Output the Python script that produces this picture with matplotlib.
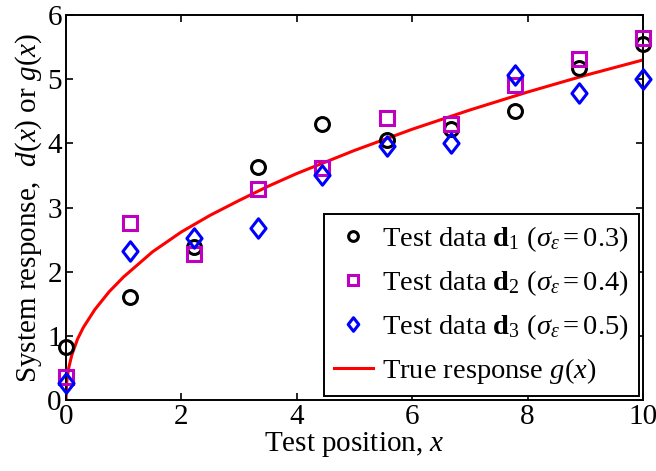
import matplotlib
matplotlib.use("Agg")
import matplotlib.pyplot as plt
from matplotlib.path import Path

plt.rcParams['font.family'] = ['Liberation Serif', 'DejaVu Serif']
plt.rcParams['mathtext.fontset'] = 'custom'
plt.rcParams['mathtext.rm'] = 'Liberation Serif'
plt.rcParams['mathtext.it'] = 'Liberation Serif:italic'
plt.rcParams['mathtext.bf'] = 'Liberation Serif:bold'

# Test positions
x_pos = [0, 1.11, 2.22, 3.33, 4.44, 5.56, 6.67, 7.78, 8.89, 10]
d1 = [0.82, 1.61, 2.39, 3.63, 4.30, 4.05, 4.22, 4.50, 5.17, 5.55]
d2 = [0.36, 2.76, 2.28, 3.29, 3.61, 4.39, 4.30, 4.91, 5.32, 5.65]
d3 = [0.26, 2.33, 2.53, 2.68, 3.50, 3.96, 4.01, 5.06, 4.79, 5.00]

# True response
g_x = [0, 0.01, 0.02, 0.05, 0.1, 0.2, 0.3, 0.5, 0.75, 1, 1.5, 2, 2.5, 3, 3.5,
       4, 5, 6, 7, 8, 9, 10]
g_y = [0, 0.25, 0.34, 0.51, 0.70, 0.95, 1.13, 1.41, 1.69, 1.92, 2.31, 2.62,
       2.88, 3.11, 3.33, 3.53, 3.89, 4.22, 4.52, 4.80, 5.06, 5.30]

labels = [r'Test data $\mathbf{d}_1$ $(\sigma_{\varepsilon} = 0.3)$',
          r'Test data $\mathbf{d}_2$ $(\sigma_{\varepsilon} = 0.4)$',
          r'Test data $\mathbf{d}_3$ $(\sigma_{\varepsilon} = 0.5)$',
          r'True response $g(x)$']

diamond = Path([(0, 1), (0.78, 0), (0, -1), (-0.78, 0), (0, 1)],
               [Path.MOVETO, Path.LINETO, Path.LINETO, Path.LINETO, Path.CLOSEPOLY])

fig = plt.figure(figsize=(6.56, 4.71), dpi=100)
ax = fig.add_axes([0.1006, 0.1507, 0.8794, 0.8173])

ax.plot(x_pos, d1, linestyle='none', marker='o', ms=10, mfc='none', mec='black',
        mew=2.2, clip_on=False, label=labels[0], zorder=3)
ax.plot(x_pos, d2, linestyle='none', marker='s', ms=9.5, mfc='none', mec='#c000c0',
        mew=2.2, clip_on=False, label=labels[1], zorder=3)
ax.plot(x_pos, d3, linestyle='none', marker=diamond, ms=14, mfc='none', mec='#0000ff',
        mew=2.2, clip_on=False, label=labels[2], zorder=3)
ax.plot(g_x, g_y, color='red', lw=2.2, label=labels[3], zorder=2)

ax.set_xlim(0, 10)
ax.set_ylim(0, 6)
ax.set_xticks([0, 2, 4, 6, 8, 10])
ax.set_yticks([0, 1, 2, 3, 4, 5, 6])
ax.tick_params(direction='in', top=True, right=True, labelsize=21, length=5,
               width=1.2, pad=3)
for s in ax.spines.values():
    s.set_linewidth(1.4)

ax.set_xlabel(r'Test position, $x$', fontsize=21, labelpad=0)
ax.set_ylabel(r'System response,  $d(x)$ or $g(x)$', fontsize=21, labelpad=2)

leg = ax.legend(loc='lower right', fontsize=20.5, frameon=True, fancybox=False,
                edgecolor='black', framealpha=1, markerscale=0.7,
                handlelength=1.4, handletextpad=0.3, borderpad=0.35,
                labelspacing=0.5, borderaxespad=0.15)
leg.get_frame().set_linewidth(1.4)

fig.savefig('out.png', dpi=100)
